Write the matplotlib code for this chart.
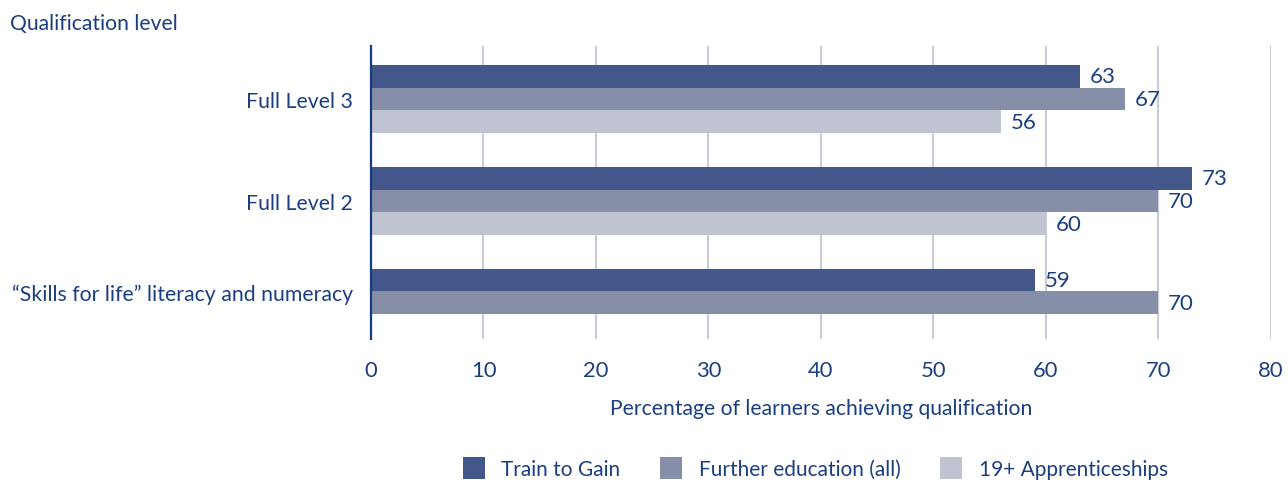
import matplotlib
matplotlib.use("Agg")
import matplotlib.pyplot as plt
from matplotlib.patches import Patch

# ── Data ─────────────────────────────────────────────────────────────────────

categories = ["Full Level 3", "Full Level 2", "\u201cSkills for life\u201d literacy and numeracy"]
series_names = ["Train to Gain", "Further education (all)", "19+ Apprenticeships"]
train_to_gain = [63, 73, 59]
further_education = [67, 70, 70]
apprenticeships = [56, 60, None]   # no apprenticeship figure for skills for life

x_ticks = [0, 10, 20, 30, 40, 50, 60, 70, 80]

# ── Style ────────────────────────────────────────────────────────────────────

COLORS = ["#44578a", "#878ea8", "#c0c3d0"]
TEXT = "#1b3f80"
GRID = "#c9ccdb"
plt.rcParams["font.family"] = ["Lato", "DejaVu Sans"]

fig = plt.figure(figsize=(12.88, 4.85), dpi=100)
ax = fig.add_axes([0.288, 0.299, 0.6988, 0.604])

group_gap = 4.5
all_series = [train_to_gain, further_education, apprenticeships]

label_pos = []
for gi, cat in enumerate(categories):
    present = []
    for si, vals in enumerate(all_series):
        v = vals[gi]
        if v is None:
            continue
        y = gi * group_gap + si
        present.append(y)
        ax.barh(y, v, height=1.0, color=COLORS[si], zorder=3)
        ax.annotate(str(v), (v, y), xytext=(7, 0), textcoords="offset points",
                    ha="left", va="center", fontsize=16, color=TEXT, zorder=4)
    label_pos.append(sum(present) / len(present))

ax.set_yticks(label_pos)
ax.set_yticklabels(categories, fontsize=15.3, color=TEXT)
ax.set_ylim(11.6, -1.34)
ax.set_xlim(0, 80)
ax.set_xticks(x_ticks)
ax.set_xticklabels([str(t) for t in x_ticks], fontsize=15.8, color=TEXT)
ax.tick_params(length=0)
ax.tick_params(axis="x", pad=15)
ax.tick_params(axis="y", pad=13)

ax.grid(axis="x", color=GRID, linewidth=1.5, zorder=0)
ax.grid(axis="y", visible=False)
for side in ["top", "right", "bottom"]:
    ax.spines[side].set_visible(False)
ax.spines["left"].set_color("#163c80")
ax.spines["left"].set_linewidth(1.6)
ax.spines["left"].set_zorder(5)

ax.set_xlabel("Percentage of learners achieving qualification", fontsize=15.2,
              color=TEXT, labelpad=13)

fig.text(0.008, 0.95, "Qualification level", fontsize=15.2, color=TEXT,
         ha="left", va="center")

handles = [Patch(facecolor=c, edgecolor="none") for c in COLORS]
fig.legend(handles, series_names, loc="center", bbox_to_anchor=(0.633, 0.033),
           ncol=3, frameon=False, fontsize=15, handlelength=1.05, handleheight=1.3,
           handletextpad=0.8, columnspacing=1.9, labelcolor=TEXT)

fig.savefig("out.png", dpi=100)
